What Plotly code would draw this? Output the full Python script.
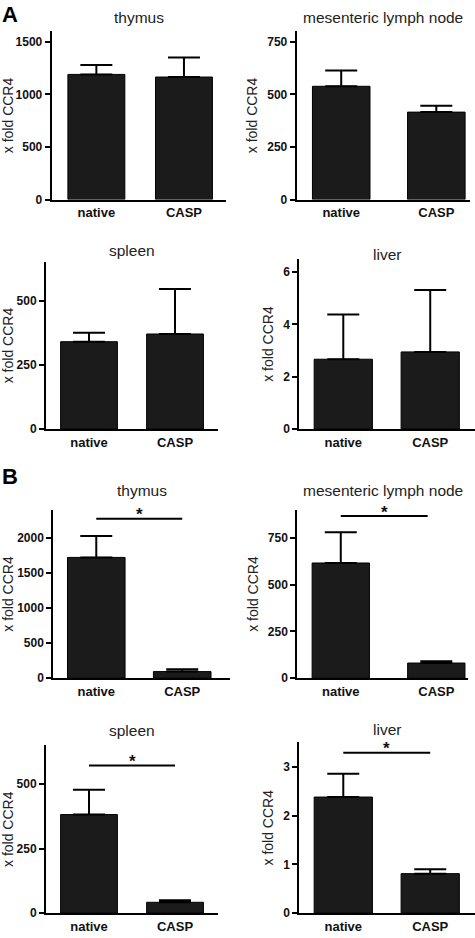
import plotly.graph_objects as go

# ---------------- data ----------------
categories = ["native", "CASP"]
organs = ["thymus", "mesenteric lymph node", "spleen", "liver"]
y_label = "x fold CCR4"

# Panel A (mean, upper SEM)
thymus_A = [1191, 1166]
thymus_A_err = [89, 186]
mln_A = [539, 416]
mln_A_err = [75, 30]
spleen_A = [340, 370]
spleen_A_err = [35, 175]
liver_A = [2.67, 2.95]
liver_A_err = [1.71, 2.37]

# Panel B (mean, upper SEM)
thymus_B = [1722, 94]
thymus_B_err = [306, 33]
mln_B = [616, 81]
mln_B_err = [164, 9]
spleen_B = [382, 42]
spleen_B_err = [96, 8]
liver_B = [2.38, 0.81]
liver_B_err = [0.48, 0.09]

# significance brackets for panel B (height in data units, star text)
sig_B_y = [2274, 867, 572, 3.29]
sig_B_x_end = [1.0, 0.91, 1.0, 1.0]
sig_label = "*"

# y-axis scales
y_max = [1600, 800, 650, 6.5, 2400, 900, 650, 3.5]
y_dtick = [500, 250, 250, 2, 500, 250, 250, 1]

# ---------------- layout geometry (pixels) ----------------
W, H = 475, 938
FONT = "Arial, Liberation Sans, sans-serif"
INK = "#111111"
BAR = "#1b1b1b"

# (x_left, x_right, y_top, y_bottom, x_range, bar_width, title_baseline)
geom = [
    (51.7, 226.0, 31.7, 201.0, [-0.51, 1.48], 0.65, 21.0),
    (296.7, 470.0, 31.7, 201.0, [-0.468, 1.354], 0.605, 21.0),
    (46.0, 218.3, 264.0, 432.3, [-0.50, 1.503], 0.66, 255.7),
    (299.3, 475.0, 261.0, 432.3, [-0.506, 1.515], 0.67, 259.0),
    (53.3, 230.0, 513.7, 683.3, [-0.50, 1.556], 0.67, 496.7),
    (297.3, 468.3, 513.7, 683.3, [-0.455, 1.335], 0.60, 496.7),
    (46.0, 218.3, 751.0, 920.0, [-0.50, 1.503], 0.66, 739.3),
    (299.3, 475.0, 748.0, 920.0, [-0.506, 1.515], 0.67, 738.3),
]

means = [thymus_A, mln_A, spleen_A, liver_A, thymus_B, mln_B, spleen_B, liver_B]
errs = [thymus_A_err, mln_A_err, spleen_A_err, liver_A_err,
        thymus_B_err, mln_B_err, spleen_B_err, liver_B_err]
titles = organs + organs

fig = go.Figure()
annotations = []
shapes = []

def px_x(x):
    return x / W

def px_y(y):
    return 1 - y / H

for i in range(8):
    xl, xr, yt, yb, xrng, bw, tb = geom[i]
    n = i + 1
    xa = "x" if n == 1 else f"x{n}"
    ya = "y" if n == 1 else f"y{n}"
    fig.add_trace(go.Bar(
        x=categories, y=means[i], xaxis=xa, yaxis=ya, width=bw,
        marker=dict(color=BAR, line=dict(color="#000000", width=1)),
        error_y=dict(type="data", array=errs[i], arrayminus=[0, 0],
                     symmetric=False, color="#000000", thickness=2, width=16),
        showlegend=False, hoverinfo="skip",
    ))
    xkey = "xaxis" if n == 1 else f"xaxis{n}"
    ykey = "yaxis" if n == 1 else f"yaxis{n}"
    fig.layout[xkey] = dict(
        domain=[px_x(xl), px_x(xr)], anchor=ya, range=xrng,
        showline=True, linecolor="#000000", linewidth=2,
        ticks="", showgrid=False, zeroline=False, fixedrange=True,
        tickfont=dict(family=FONT, size=13, color=INK, weight="bold"),
        categoryorder="array", categoryarray=categories,
    )
    fig.layout[ykey] = dict(
        domain=[px_y(yb), px_y(yt)], anchor=xa, range=[0, y_max[i]],
        dtick=y_dtick[i], tick0=0,
        showline=True, linecolor="#000000", linewidth=2,
        ticks="outside", ticklen=5, tickwidth=2, tickcolor="#000000",
        showgrid=False, zeroline=False, fixedrange=True,
        tickfont=dict(family=FONT, size=12, color=INK, weight="bold"),
        title=dict(text=y_label, font=dict(family=FONT, size=14, color="#222222"),
                   standoff=6),
    )
    # panel title (centred on the plot area, baseline at tb)
    annotations.append(dict(
        text=titles[i], xref="paper", yref="paper",
        x=px_x((xl + xr) / 2), y=px_y(tb - 3), xanchor="center", yanchor="middle",
        showarrow=False, font=dict(family=FONT, size=15.5, color="#222222"),
    ))
    # significance brackets (panel B only)
    if i >= 4:
        j = i - 4
        shapes.append(dict(
            type="line", xref=xa, yref=ya, x0=0, x1=sig_B_x_end[j],
            y0=sig_B_y[j], y1=sig_B_y[j],
            line=dict(color="#000000", width=2),
        ))
        annotations.append(dict(
            text=sig_label, xref=xa, yref=ya, x=sig_B_x_end[j] / 2, y=sig_B_y[j],
            xanchor="center", yanchor="middle", showarrow=False, yshift=4,
            font=dict(family=FONT, size=17, color=INK, weight="bold"),
        ))

# panel letters
for letter, ytop in (("A", 0), ("B", 465)):
    annotations.append(dict(
        text=letter, xref="paper", yref="paper", x=0, y=px_y(ytop),
        xanchor="left", yanchor="top", showarrow=False,
        font=dict(family=FONT, size=22, color="#000000", weight="bold"),
    ))

fig.update_layout(
    width=W, height=H, margin=dict(l=0, r=0, t=0, b=0),
    paper_bgcolor="white", plot_bgcolor="white",
    annotations=annotations, shapes=shapes, bargap=0.3,
    font=dict(family=FONT, color=INK),
)

fig.write_html("out.html", config={"displayModeBar": False},
               post_script="document.body.style.margin='0';")
